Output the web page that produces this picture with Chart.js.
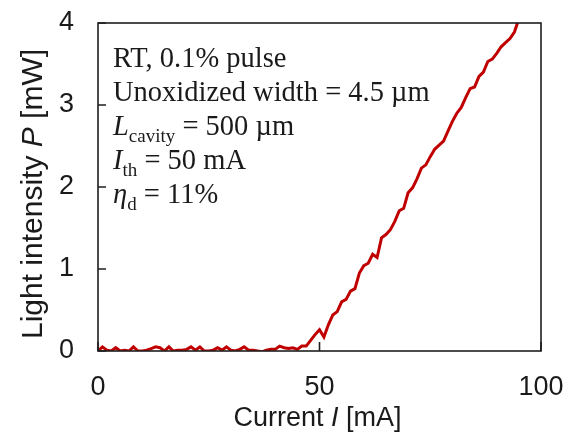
<!DOCTYPE html>
<html>
<head>
<meta charset="utf-8">
<style>
  html, body { margin: 0; padding: 0; background: #fff; }
  #wrap { width: 576px; height: 432px; }
</style>
<script src="https://cdn.jsdelivr.net/npm/chart.js@4"></script>
</head>
<body>
<div id="wrap"><canvas id="liChart" width="576" height="432"></canvas></div>
<script>
// drive current [mA]
const currentMa = [
  0, 1, 2, 3, 4, 5, 6, 7, 8, 9, 10, 11, 12, 13, 14, 15, 16, 17, 18, 19,
  20, 21, 22, 23, 24, 25, 26, 27, 28, 29, 30, 31, 32, 33, 34, 35, 36, 37, 38, 39,
  40, 41, 42, 43, 44, 45, 46, 47, 48, 49, 50, 51, 52, 53, 54, 55, 56, 57, 58, 59,
  60, 61, 62, 63, 64, 65, 66, 67, 68, 69, 70, 71, 72, 73, 74, 75, 76, 77, 78, 79,
  80, 81, 82, 83, 84, 85, 86, 87, 88, 89, 90, 91, 92, 93, 94, 95
];

// light output P [mW]
const powerMw = [
  0.00, 0.05, 0.01, 0.00, 0.04, 0.00, 0.01, 0.00, 0.05, 0.00,
  0.00, 0.01, 0.03, 0.05, 0.04, 0.00, 0.05, 0.00, 0.01, 0.01,
  0.02, 0.05, 0.01, 0.05, 0.00, 0.00, 0.01, 0.04, 0.01, 0.05,
  0.01, 0.00, 0.02, 0.05, 0.01, 0.01, 0.00, -0.01, 0.01, 0.02,
  0.02, 0.06, 0.04, 0.03, 0.04, 0.02, 0.06, 0.06, 0.13, 0.20,
  0.26, 0.17, 0.32, 0.44, 0.48, 0.60, 0.63, 0.73, 0.76, 0.95,
  1.04, 1.07, 1.18, 1.14, 1.38, 1.42, 1.48, 1.58, 1.71, 1.74,
  1.93, 1.99, 2.10, 2.23, 2.27, 2.37, 2.46, 2.51, 2.56, 2.68,
  2.80, 2.90, 2.97, 3.09, 3.20, 3.22, 3.35, 3.40, 3.53, 3.56,
  3.63, 3.71, 3.76, 3.81, 3.89, 4.05
];

const xTicks = [0, 50, 100];
const yTicks = [0, 1, 2, 3, 4];

// axis titles, split so the symbol can be italic
const xTitle = [['Current ', 'n'], ['I', 'i'], [' [mA]', 'n']];
const yTitle = [['Light intensity ', 'n'], ['P', 'i'], [' [mW]', 'n']];

// inset annotation, one entry per line
const noteLines = [
  [['RT, 0.1% pulse', 'n']],
  [['Unoxidized width = 4.5 \u00b5m', 'n']],
  [['L', 'i'], ['cavity', 'sub'], [' = 500 \u00b5m', 'n']],
  [['I', 'i'], ['th', 'sub'], [' = 50 mA', 'n']],
  [['\u03b7', 'i'], ['d', 'sub'], [' = 11%', 'n']]
];

(function() {
  const canvas = document.getElementById('liChart');
  if (!canvas || typeof Chart === 'undefined') return;

  const axisColor = '#1f1f1f';
  const textColor = '#1a1a1a';
  const lineColor = '#c00000';
  const sans = "'Liberation Sans', Arial, sans-serif";
  const serif = "'Liberation Serif', 'Times New Roman', serif";

  // draws a run of [text, style] parts starting at x
  function drawRuns(ctx, parts, x, y, size, family) {
    parts.forEach(([text, style]) => {
      let dy = 0;
      if (style === 'i') ctx.font = `italic ${size}px ${family}`;
      else if (style === 'sub') { ctx.font = `${Math.round(size * 0.68)}px ${family}`; dy = size * 0.25; }
      else ctx.font = `${size}px ${family}`;
      ctx.fillText(text, x, y + dy);
      x += ctx.measureText(text).width;
    });
  }

  function runsWidth(ctx, parts, size, family) {
    let w = 0;
    parts.forEach(([text, style]) => {
      ctx.font = style === 'i' ? `italic ${size}px ${family}` : `${size}px ${family}`;
      w += ctx.measureText(text).width;
    });
    return w;
  }

  // frame around the plot plus short inward ticks
  const framePlugin = {
    id: 'frame',
    afterDraw(chart) {
      const { ctx, chartArea: a, scales } = chart;
      ctx.save();
      ctx.strokeStyle = axisColor;
      ctx.lineWidth = 1.6;
      ctx.strokeRect(a.left, a.top, a.right - a.left, a.bottom - a.top);
      ctx.beginPath();
      xTicks.forEach(v => {
        const px = scales.x.getPixelForValue(v);
        ctx.moveTo(px, a.bottom);
        ctx.lineTo(px, a.bottom - 9);
      });
      yTicks.forEach(v => {
        const py = scales.y.getPixelForValue(v);
        ctx.moveTo(a.left, py);
        ctx.lineTo(a.left + 8, py);
      });
      ctx.stroke();
      ctx.restore();
    }
  };

  const titlePlugin = {
    id: 'titles',
    afterDraw(chart) {
      const { ctx, chartArea: a } = chart;
      ctx.save();
      ctx.fillStyle = textColor;
      ctx.textBaseline = 'alphabetic';
      ctx.textAlign = 'left';

      const xw = runsWidth(ctx, xTitle, 27, sans);
      drawRuns(ctx, xTitle, (a.left + a.right) / 2 - 2 - xw / 2, a.bottom + 75, 27, sans);

      const yw = runsWidth(ctx, yTitle, 30, sans);
      ctx.translate(a.left - 56, (a.top + a.bottom) / 2 + 7);
      ctx.rotate(-Math.PI / 2);
      drawRuns(ctx, yTitle, -yw / 2, 0, 30, sans);
      ctx.restore();
    }
  };

  const notePlugin = {
    id: 'note',
    afterDraw(chart) {
      const { ctx, chartArea: a } = chart;
      ctx.save();
      ctx.fillStyle = textColor;
      ctx.textBaseline = 'alphabetic';
      ctx.textAlign = 'left';
      noteLines.forEach((parts, i) => {
        drawRuns(ctx, parts, a.left + 15, a.top + 44 + i * 34, 28.5, serif);
      });
      ctx.restore();
    }
  };

  const points = currentMa.map((c, i) => ({ x: c, y: powerMw[i] }));

  new Chart(canvas.getContext('2d'), {
    type: 'scatter',
    data: {
      datasets: [{
        label: 'P',
        data: points,
        showLine: true,
        borderColor: lineColor,
        borderWidth: 3,
        pointRadius: 0,
        tension: 0,
        fill: false
      }]
    },
    options: {
      responsive: false,
      animation: false,
      layout: { padding: { top: 23, right: 35, left: 0, bottom: 0 } },
      plugins: {
        legend: { display: false },
        tooltip: { enabled: false }
      },
      scales: {
        x: {
          type: 'linear',
          min: 0,
          max: 100,
          afterBuildTicks: s => { s.ticks = xTicks.map(v => ({ value: v })); },
          afterFit: s => {
            s.height = 81;
            s.paddingLeft = 0;
            s.paddingRight = 0;
          },
          grid: { display: false, drawTicks: false },
          border: { display: false },
          ticks: {
            padding: 20,
            color: textColor,
            font: { family: sans, size: 27 },
            maxRotation: 0
          }
        },
        y: {
          type: 'linear',
          min: 0,
          max: 4,
          afterBuildTicks: s => { s.ticks = yTicks.map(v => ({ value: v })); },
          afterFit: s => {
            s.width = 98;
            s.paddingTop = 0;
            s.paddingBottom = 0;
          },
          grid: { display: false, drawTicks: false },
          border: { display: false },
          ticks: {
            padding: 24,
            color: textColor,
            font: { family: sans, size: 27 }
          }
        }
      }
    },
    plugins: [framePlugin, titlePlugin, notePlugin]
  });
})();
</script>
</body>
</html>
